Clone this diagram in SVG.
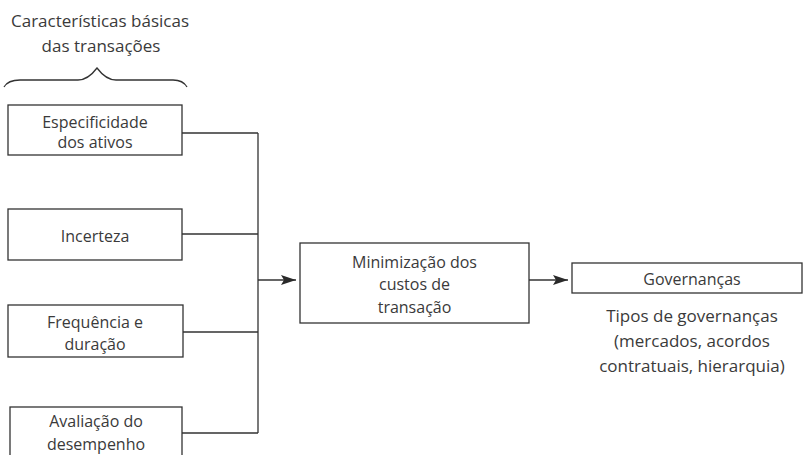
<svg xmlns="http://www.w3.org/2000/svg" width="805" height="455" viewBox="0 0 805 455">
<style>
  text { font-family: "Open Sans", "Noto Sans", "Liberation Sans", sans-serif; fill: #3a3a3a; text-anchor: middle; }
  .t16 { font-size: 16px; }
  .t17 { font-size: 17px; }
  .box { fill: #ffffff; stroke: #333333; stroke-width: 1.3; }
  .ln { fill: none; stroke: #333333; stroke-width: 1.3; }
</style>
<defs>
  <marker id="arr" markerWidth="16" markerHeight="12" viewBox="0 0 16 12" refX="15" refY="6" orient="auto" markerUnits="userSpaceOnUse">
    <path d="M0,1 L15,6 L0,11 L3,6 Z" fill="#2a2a2a"/>
  </marker>
</defs>
<rect width="805" height="455" fill="#ffffff"/>

<g id="title">
  <text class="t17" x="100" y="27">Características básicas</text>
  <text class="t17" x="101" y="52">das transações</text>
  <path class="ln" d="M4,87 Q8,80 20,80 L78,80 Q88,80 97,68 Q106,80 116,80 L173,80 Q183,80 187,87"/>
</g>

<g id="connectors">
  <path class="ln" d="M182,133 H258 M182,234 H258 M183,332 H258 M182,433 H258 M258,133 V433"/>
  <path class="ln" d="M258,280 H296" marker-end="url(#arr)"/>
  <path class="ln" d="M529,280 H568" marker-end="url(#arr)"/>
</g>

<g id="n-especificidade">
  <rect class="box" x="8" y="105" width="174" height="50"/>
  <text class="t16" x="95" y="128">Especificidade</text>
  <text class="t16" x="95" y="148">dos ativos</text>
</g>

<g id="n-incerteza">
  <rect class="box" x="8" y="209" width="174" height="51"/>
  <text class="t16" x="95" y="242">Incerteza</text>
</g>

<g id="n-frequencia">
  <rect class="box" x="8" y="305" width="175" height="52"/>
  <text class="t16" x="95" y="328">Frequência e</text>
  <text class="t16" x="95" y="350">duração</text>
</g>

<g id="n-avaliacao">
  <rect class="box" x="10" y="407" width="172" height="60"/>
  <text class="t16" x="96" y="427">Avaliação do</text>
  <text class="t16" x="96" y="450">desempenho</text>
</g>

<g id="n-minimizacao">
  <rect class="box" x="300" y="243" width="229" height="80"/>
  <text class="t16" x="414.5" y="268">Minimização dos</text>
  <text class="t16" x="414.5" y="290">custos de</text>
  <text class="t16" x="414.5" y="313">transação</text>
</g>

<g id="n-governancas">
  <rect class="box" x="572" y="263" width="230" height="30"/>
  <text class="t16" x="692" y="285">Governanças</text>
  <text class="t17" x="692" y="322">Tipos de governanças</text>
  <text class="t17" x="692" y="347">(mercados, acordos</text>
  <text class="t17" x="692" y="372">contratuais, hierarquia)</text>
</g>
</svg>
